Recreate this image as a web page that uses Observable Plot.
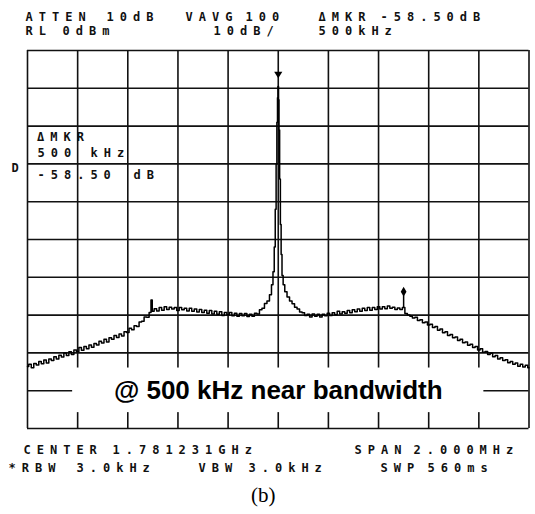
<!DOCTYPE html>
<html>
<head>
<meta charset="utf-8">
<script src="https://cdn.jsdelivr.net/npm/d3@7"></script>
<script src="https://cdn.jsdelivr.net/npm/@observablehq/plot@0.6"></script>
<style>
  html, body { margin: 0; padding: 0; background: #fff; }
</style>
</head>
<body>
<div id="chart"></div>
<script>
// Spectrum analyzer sweep: offset from center frequency (kHz) and level (dBm)
const traceKHz = [
  -1000, -990, -980, -970, -960, -950, -940, -930, -920, -910,
  -900, -890, -880, -870, -860, -850, -840, -830, -820, -810,
  -800, -790, -780, -770, -760, -750, -740, -730, -720, -710,
  -700, -690, -680, -670, -660, -650, -640, -630, -620, -610,
  -600, -590, -580, -570, -560, -550, -540, -530, -520, -510,
  -505, -500, -490, -480, -470, -460, -450, -440, -430, -420,
  -410, -400, -390, -380, -370, -360, -350, -340, -330, -320,
  -310, -300, -290, -280, -270, -260, -250, -240, -230, -220,
  -210, -200, -190, -180, -170, -160, -150, -140, -130, -120,
  -110, -100, -90, -80, -70, -60, -50, -40, -30, -24,
  -18, -14, -10, -7, -4, -2, 0, 2, 4, 7,
  10, 13, 17, 22, 30, 40, 50, 60, 70, 80,
  90, 100, 110, 120, 130, 140, 150, 160, 170, 180,
  190, 200, 210, 220, 230, 240, 250, 260, 270, 280,
  290, 300, 310, 320, 330, 340, 350, 360, 370, 380,
  390, 400, 410, 420, 430, 440, 450, 460, 470, 480,
  490, 500, 510, 520, 530, 540, 550, 560, 570, 580,
  590, 600, 610, 620, 630, 640, 650, 660, 670, 680,
  690, 700, 710, 720, 730, 740, 750, 760, 770, 780,
  790, 800, 810, 820, 830, 840, 850, 860, 870, 880,
  890, 900, 910, 920, 930, 940, 950, 960, 970, 980,
  990, 1000
];
const traceDb = [
  -83.6, -83.0, -83.9, -82.8, -83.2, -82.3, -82.9, -81.9, -82.7, -81.6,
  -82.0, -81.0, -81.6, -80.6, -81.1, -80.0, -80.7, -79.7, -80.4, -79.2,
  -79.6, -78.6, -79.3, -78.3, -78.9, -77.9, -78.5, -77.5, -77.9, -76.9,
  -77.4, -76.4, -77.1, -76.0, -76.4, -75.4, -75.9, -75.0, -75.5, -74.4,
  -74.6, -73.5, -73.9, -72.8, -73.0, -71.8, -71.6, -70.5, -70.6, -69.3,
  -66.0, -69.0, -68.3, -68.9, -68.0, -68.7, -67.8, -68.5, -67.9, -68.4,
  -68.0, -68.8, -68.0, -68.6, -68.2, -68.9, -68.2, -69.0, -68.4, -69.2,
  -68.5, -69.3, -68.7, -69.5, -68.8, -69.7, -69.0, -69.8, -69.1, -70.1,
  -69.3, -69.9, -69.3, -70.2, -69.5, -70.3, -69.6, -70.2, -69.6, -70.4,
  -69.8, -70.3, -69.5, -69.7, -68.6, -68.2, -66.9, -66.3, -64.6, -62.0,
  -58.5, -52.0, -42.0, -30.0, -19.0, -12.5, -9.5, -13.0, -21.0, -34.0,
  -46.0, -54.0, -59.5, -62.0, -63.8, -65.2, -66.3, -67.0, -67.9, -68.4,
  -69.2, -69.4, -70.1, -69.8, -70.5, -69.7, -70.3, -69.8, -70.5, -69.8,
  -70.2, -69.5, -70.1, -69.4, -69.9, -69.0, -69.7, -69.1, -69.5, -68.8,
  -69.4, -68.6, -69.1, -68.4, -69.0, -68.2, -68.8, -68.0, -68.7, -68.0,
  -68.5, -67.8, -68.4, -67.8, -68.3, -67.6, -68.2, -67.9, -68.5, -68.1,
  -68.5, -68.0, -69.6, -70.0, -70.3, -70.8, -70.6, -71.4, -71.2, -72.0,
  -71.8, -72.6, -72.4, -73.3, -73.0, -74.0, -73.7, -74.7, -74.4, -75.4,
  -75.1, -76.0, -75.8, -76.7, -76.4, -77.3, -77.1, -78.0, -77.7, -78.6,
  -78.3, -79.2, -78.9, -79.8, -79.6, -80.4, -80.1, -81.0, -80.7, -81.6,
  -81.3, -82.0, -81.8, -82.6, -82.3, -83.0, -82.7, -83.5, -83.0, -83.7,
  -83.3, -83.9
];

// Graticule: 200 kHz and 10 dB per division, reference level 0 dBm
const freqGridKHz = [-1000, -800, -600, -400, -200, 0, 200, 400, 600, 800, 1000];
const levelGridDb = [0, -10, -20, -30, -40, -50, -60, -70, -80, -90, -100];

// Delta marker settings
const markerOffsetKHz = [500];
const markerDeltaDb = [-58.5];

// Instrument readouts
const headerTopWords = ["ATTEN", "10dB", "VAVG", "100", "ΔMKR", "-58.50dB"];
const headerSubWords = ["RL", "0dBm", "10dB/", "500kHz"];
const footerTopWords = ["CENTER", "1.781231GHz", "SPAN", "2.000MHz"];
const footerSubWords = ["*RBW", "3.0kHz", "VBW", "3.0kHz", "SWP", "560ms"];
const markerReadoutWords = ["ΔMKR", "500", "kHz", "-58.50", "dB"];
const displayLineLabel = ["D"];
const noteText = ["@ 500 kHz near bandwidth"];
const captionText = ["(b)"];

// Derived marker positions
const peakIndex = d3.maxIndex(traceDb);
const peakKHz = traceKHz[peakIndex];
const peakDb = traceDb[peakIndex];
const markerKHz = peakKHz + markerOffsetKHz[0];
const markerDb = peakDb + markerDeltaDb[0];

// Marker glyphs
const downTriangle = {
  draw(ctx, size) {
    const s = Math.sqrt(size);
    const w = s * 0.5, h = s * 0.8;
    ctx.moveTo(-w, -h / 2);
    ctx.lineTo(w, -h / 2);
    ctx.lineTo(0, h / 2);
    ctx.closePath();
  }
};
const tallDiamond = {
  draw(ctx, size) {
    const s = Math.sqrt(size);
    const w = s * 0.36, h = s * 0.62;
    ctx.moveTo(0, -h);
    ctx.lineTo(w, 0);
    ctx.lineTo(0, h);
    ctx.lineTo(-w, 0);
    ctx.closePath();
  }
};

const frameLeft = 27, frameTop = 50;
const ink = "#111";
const readoutFont = "DejaVu Sans Mono";

// One text mark per readout word, placed in pixels around the graticule
function readout(words, xs, baselines) {
  return words.map((w, i) => Plot.text([w], {
    frameAnchor: "top-left",
    dx: xs[i] - frameLeft,
    dy: (Array.isArray(baselines) ? baselines[i] : baselines) - frameTop,
    text: d => d,
    textAnchor: "start",
    lineAnchor: "bottom",
    fontFamily: readoutFont,
    fontWeight: "bold",
    fontSize: 12,
    fill: ink
  }));
}

const chart = Plot.plot({
  width: 535,
  height: 514,
  marginLeft: frameLeft,
  marginRight: 6.5,
  marginTop: frameTop,
  marginBottom: 86,
  x: {domain: [-1000, 1000], axis: null},
  y: {domain: [-100, 0], axis: null},
  style: {background: "#fff", overflow: "visible"},
  marks: [
    Plot.ruleX(freqGridKHz, {stroke: ink, strokeWidth: 1.6}),
    Plot.ruleY(levelGridDb, {stroke: ink, strokeWidth: 1.6}),
    Plot.line(traceDb, {x: traceKHz, y: traceDb, curve: "step", stroke: "#000", strokeWidth: 1.5}),
    // label panel over the lower graticule
    Plot.rect([0], {x1: -820, x2: 820, y1: -95.8, y2: -84, fill: "#fff"}),
    Plot.text(noteText, {
      x: 0, y: -90, text: d => d, lineAnchor: "middle",
      fontFamily: "Liberation Sans, Arial, sans-serif", fontWeight: "bold", fontSize: 26, fill: "#000"
    }),
    // reference marker above the carrier
    Plot.dot([peakKHz], {x: d => d, y: peakDb + 3, symbol: downTriangle, r: 4.6, fill: "#000", stroke: "none"}),
    // delta marker
    Plot.ruleX([markerKHz], {y1: markerDb, y2: markerDb + 4, stroke: "#000", strokeWidth: 1.5}),
    Plot.dot([markerKHz], {x: d => d, y: markerDb + 4.2, symbol: tallDiamond, r: 4.5, fill: "#000", stroke: "none"}),
    ...readout(headerTopWords, [25, 106, 185, 245, 318, 380], 20),
    ...readout(headerSubWords, [25, 62, 213, 318], 34.5),
    ...readout(footerTopWords, [23, 112, 354, 413], 453.5),
    ...readout(footerSubWords, [8, 76, 198, 248, 380, 427], 471),
    ...readout(markerReadoutWords, [36.5, 37, 90, 37, 133], [140, 156.7, 156.7, 178.3, 178.3]),
    ...readout(displayLineLabel, [11], 171),
    Plot.text(captionText, {
      frameAnchor: "bottom", dx: -15, dy: 73, text: d => d, lineAnchor: "bottom",
      fontFamily: "Liberation Serif, Times New Roman, serif", fontSize: 21, fill: "#000"
    })
  ]
});

// Widen the instrument lettering
d3.select(chart).selectAll("g")
  .filter(function () { return this.getAttribute("font-family") === readoutFont; })
  .selectAll("text")
  .style("letter-spacing", "6px");

document.getElementById("chart").append(chart);
</script>
</body>
</html>
